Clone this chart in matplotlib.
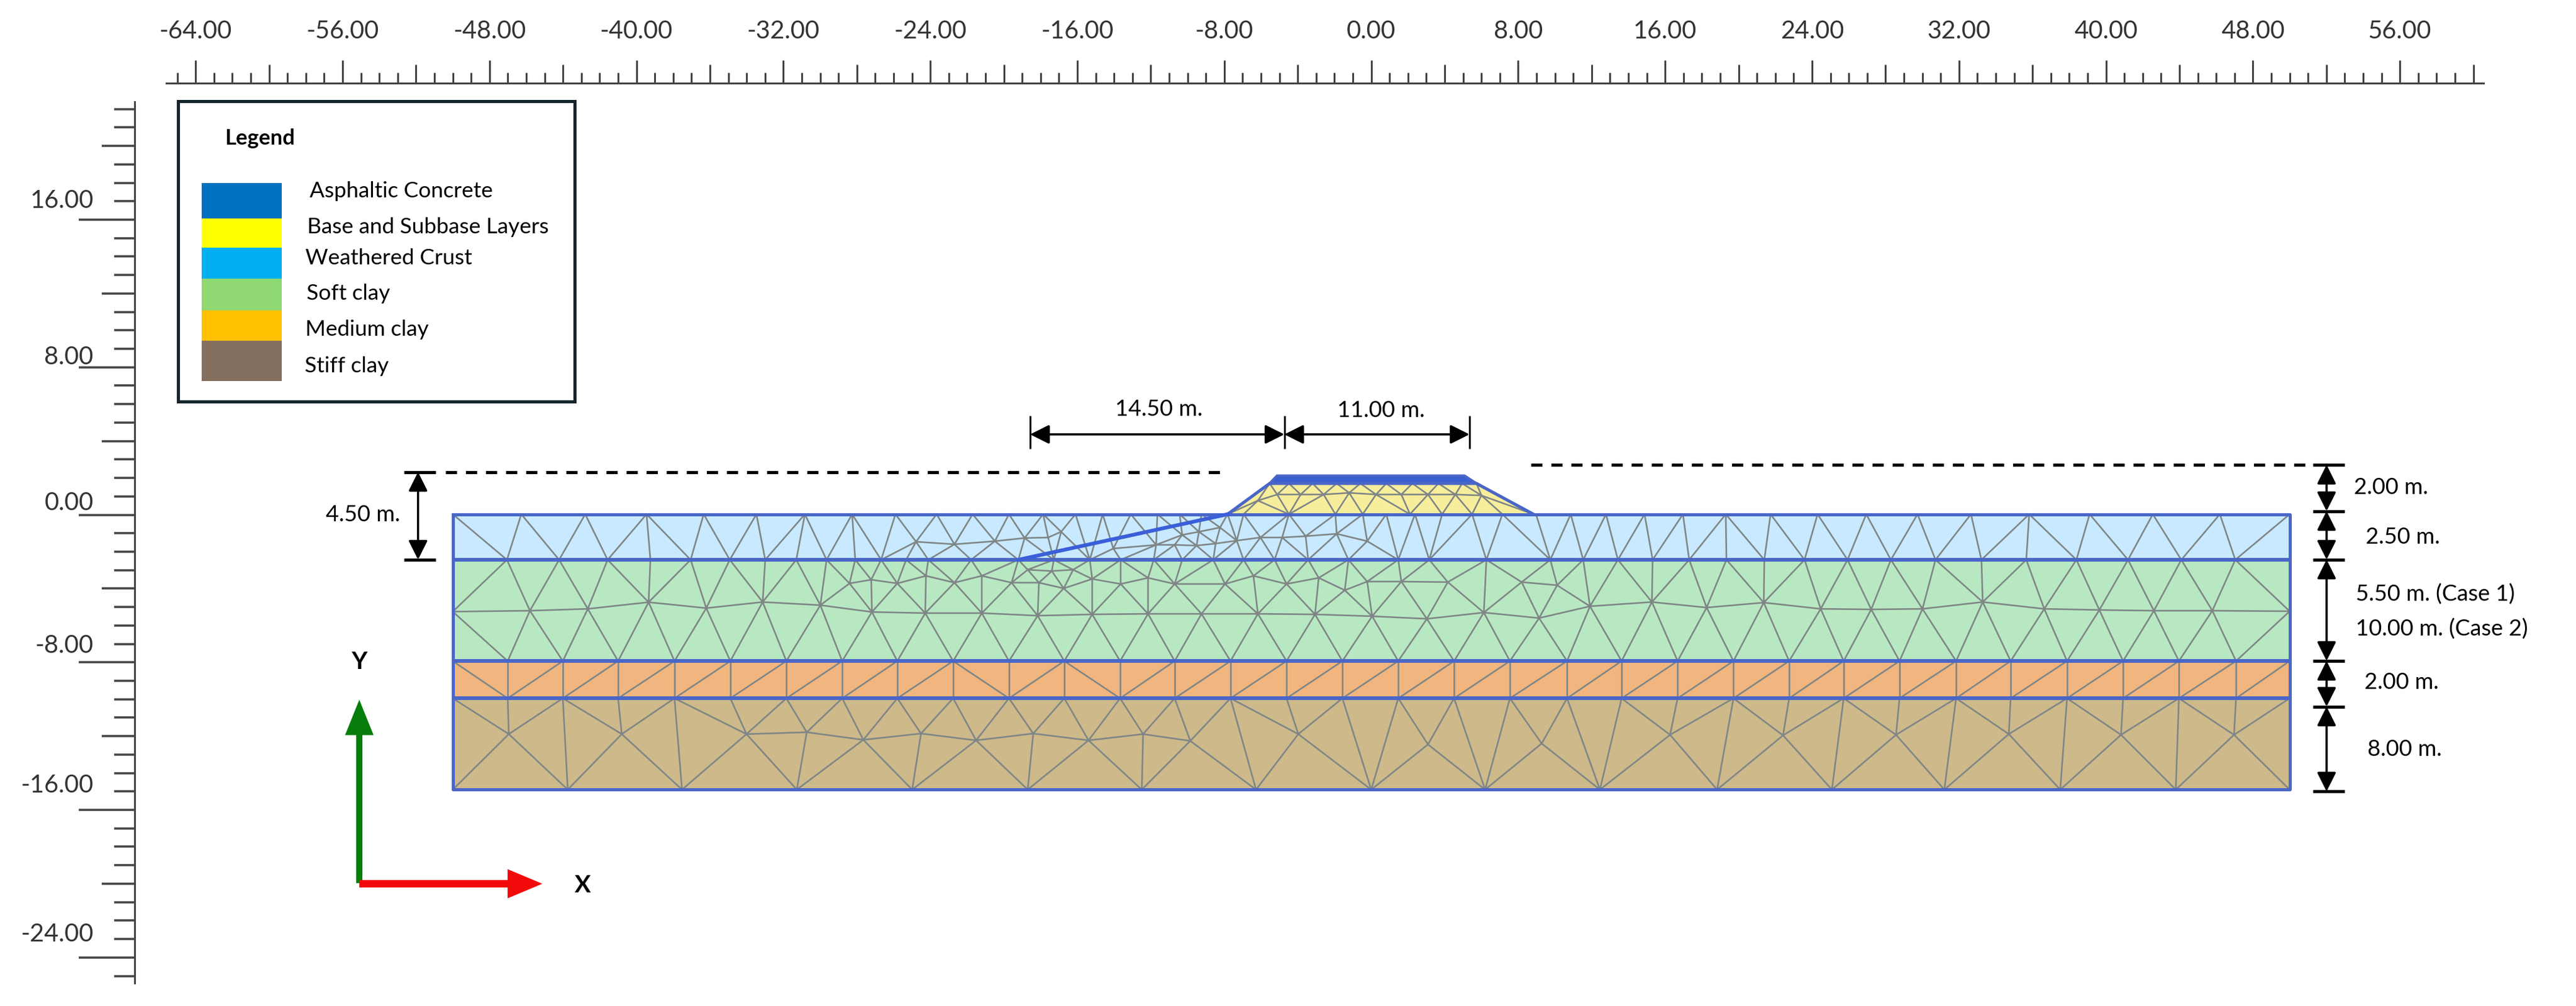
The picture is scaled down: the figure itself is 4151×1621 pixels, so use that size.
"""Embankment FE model cross-section with soil layers and mesh"""

import matplotlib
matplotlib.use('Agg')
import matplotlib.pyplot as plt
import matplotlib.tri as mtri
from matplotlib.collections import LineCollection
from matplotlib.transforms import ScaledTranslation
import numpy as np

W, H = 4151, 1621
plt.rcParams['font.family'] = ['Lato', 'DejaVu Sans']

# ruler ticks
x_ticks = [-64, -56, -48, -40, -32, -24, -16, -8, 0, 8, 16, 24, 32, 40, 48, 56]
x_tick_labels = ['-64.00', '-56.00', '-48.00', '-40.00', '-32.00', '-24.00', '-16.00', '-8.00',
                 '0.00', '8.00', '16.00', '24.00', '32.00', '40.00', '48.00', '56.00']
y_ticks = [-24, -16, -8, 0, 8, 16]
y_tick_labels = ['-24.00', '-16.00', '-8.00', '0.00', '8.00', '16.00']
y_label_lift = [41, 43, 30, 23, 20, 34]  # px above the long tick, varies in the source

# soil layers, top to bottom (m)
Y0, Y1, Y2, Y3, Y4 = 0.03, -2.44, -7.93, -9.95, -14.9
layer_tops = [Y0, Y1, Y2, Y3]
layer_bots = [Y1, Y2, Y3, Y4]
layer_cols = ['#c8e9ff', '#b8e8c2', '#f1b57f', '#cdb98a']
model_x = [-50.0, 50.0]
interface_y = [Y1, Y2, Y3]

# embankment outline
fill_x = [-7.82, -5.53, 5.73, 8.83]
fill_y = [Y0, 1.7, 1.7, Y0]
asph_x = [-5.53, -5.13, 5.08, 5.73]
asph_y = [1.7, 2.12, 2.12, 1.7]
slip_x = [-7.82, -19.21]
slip_y = [Y0, Y1]

# mesh nodes (m)
row_0 = [-50.0, -46.27, -42.79, -39.45, -36.34, -33.47, -30.83, -28.26, -25.90, -23.66, -21.70,
         -19.72, -17.86, -16.10, -14.62, -13.09, -11.64, -10.43, -9.24, -7.82, -6.95, -4.48,
         -1.95, -0.46, 0.82, 2.38, 3.86, 5.49, 7.14, 8.97, 10.86, 12.78, 14.88, 16.97, 19.30,
         21.74, 24.30, 26.95, 29.74, 32.65, 35.82, 39.11, 42.55, 46.20, 50.0]
row_25 = [-50.0, -47.05, -44.21, -41.57, -39.24, -37.05, -34.92, -32.99, -31.30, -29.65, -28.09,
          -26.68, -25.32, -24.11, -21.78, -19.21, -17.28, -15.32, -13.64, -11.84, -10.29, -8.60,
          -6.95, -5.26, -3.43, -1.24, 1.47, 3.16, 6.27, 9.75, 11.54, 13.43, 15.32, 17.31, 19.34,
          21.40, 23.59, 25.93, 28.29, 30.72, 33.22, 35.66, 38.39, 41.20, 44.10, 47.04, 50.0]
row_8 = [-50.0, -47.01, -44.01, -41.0, -37.93, -34.89, -31.84, -28.80, -25.80, -22.76, -19.72,
         -16.71, -13.67, -10.70, -7.66, -4.61, -1.57, 1.47, 4.51, 7.55, 10.66, 13.63, 16.68,
         19.72, 22.75, 25.72, 28.76, 31.84, 34.81, 37.88, 40.93, 43.97, 47.08, 50.0]
row_15 = [-50.0, -43.74, -37.52, -31.27, -24.99, -18.70, -12.49, -6.27, 0.0, 6.20, 12.45, 18.83,
          25.08, 31.20, 37.51, 43.80, 50.0]

crust_mid_x = [-24.78, -22.69, -20.49, -18.87, -17.59, -16.88, -14.04, -11.71, -10.70, -9.51,
               -8.47, -7.32, -6.03, -4.85, -3.57, -1.88, -0.22, -10.29, -9.38, -8.23]
crust_mid_y = [-1.46, -1.60, -1.43, -1.26, -1.23, -0.92, -1.83, -1.63, -1.63, -1.67,
               -1.56, -1.40, -1.23, -1.23, -1.16, -1.03, -1.43, -1.09, -0.92, -0.69]

soft_mid_x = [-50.0, -45.80, -42.65, -39.34, -36.20, -33.13, -29.99, -27.18, -24.28, -21.20, -18.16,
              -15.19, -12.15, -9.24, -6.17, -3.06, 0.05, 3.03, 6.13, 9.14, 11.91, 15.28, 18.26,
              21.37, 24.47, 27.22, 30.01, 33.29, 36.64, 39.64, 42.61, 45.79, 50.0]
soft_mid_y = [-5.25, -5.20, -5.10, -4.74, -5.06, -4.73, -4.90, -5.27, -5.33, -5.33, -5.47,
              -5.40, -5.37, -5.37, -5.37, -5.40, -5.50, -5.64, -5.30, -5.60, -4.96, -4.73, -5.03,
              -4.76, -5.10, -5.13, -5.10, -4.73, -5.10, -5.16, -5.20, -5.20, -5.23]
soft_up_x = [-28.40, -27.22, -25.80, -24.24, -22.69, -21.20, -19.58, -18.09, -16.74, -15.19, -13.64,
             -12.15, -10.70, -7.96, -6.41, -4.61, -2.86, -1.44, -0.22, 1.64, 4.17, 8.19, 10.12,
             -18.70, -17.39, -16.23]
soft_up_y = [-3.72, -3.52, -3.72, -3.31, -3.68, -3.31, -3.68, -3.68, -3.99, -3.48, -3.75,
             -3.42, -3.75, -3.75, -3.31, -3.75, -3.42, -4.09, -3.62, -3.62, -3.65, -3.65, -3.82,
             -2.98, -3.05, -2.98]

stiff_mid_x = [-46.95, -40.80, -34.01, -30.73, -27.65, -24.51, -21.51, -18.40, -15.39, -12.42,
               -9.85, -3.97, 3.09, 9.28, 16.27, 22.42, 28.57, 34.71, 40.82, 46.97]
stiff_mid_y = [-11.89, -11.89, -11.89, -11.79, -12.20, -11.86, -12.23, -11.86, -12.23, -11.89,
               -12.26, -11.89, -12.45, -12.40, -11.93, -11.96, -11.93, -11.89, -11.93, -11.93]

fill_base_x = [-7.82, -6.95, -4.48, -1.95, -0.46, 2.11, 3.86, 5.49, 7.14, 8.83]
fill_top_x = [-5.53, -4.48, -3.19, -1.88, -0.59, 0.82, 2.24, 3.66, 4.95, 5.73]
fill_mid_x = [-6.17, -5.12, -3.84, -2.59, -1.20, 0.26, 1.64, 3.09, 4.58, 6.0]
fill_mid_y = [0.77, 1.10, 1.10, 1.10, 1.19, 1.10, 1.10, 1.10, 1.10, 1.05]

medium_back_cells = [0, 9, 11]  # cells of the medium clay with a "\" diagonal

# dimension lines (m)
right_dim_y = [2.71, 0.2, -2.43, -7.92, -10.4, -15.0]
left_dim_y = [2.32, -2.43]
top_dim_x = [-18.57, -4.73, 5.35]
dash_left_x = [-50.39, -8.23]
dash_right_x = [8.70, 51.17]

# legend
legend_names = ['Asphaltic Concrete', 'Base and Subbase Layers', 'Weathered Crust',
                'Soft clay', 'Medium clay', 'Stiff clay']
legend_cols = ['#0070c0', '#ffff00', '#00b0f0', '#8fd872', '#ffc000', '#857060']
legend_edges = [295, 352, 399, 449, 500, 549, 614]
legend_text_x = [499, 495, 492, 494, 492, 491]
legend_text_y = [308, 366, 416, 473, 531, 590]

MESH = '#7f8686'
LINE = '#4a66c8'
RULER = '#444444'
PX = 0.72  # points per pixel at dpi 100

x0, sx = 2209.6, 29.6
y0, sy = 829.5, 29.72

fig = plt.figure(figsize=(W / 100, H / 100), dpi=100, facecolor='white')
ax = fig.add_axes([217 / W, 1 - 1585 / H, (4002 - 217) / W, (1585 - 134) / H])
ax.patch.set_visible(False)

# layers
for top, bot, col in zip(layer_tops, layer_bots, layer_cols):
    ax.fill_between(model_x, bot, top, color=col, lw=0, zorder=1)
ax.fill(fill_x, fill_y, color='#f7ee9c', lw=0, zorder=1)
ax.fill(asph_x, asph_y, color='#3a5fd0', lw=0, zorder=3)


def mesh(xs, ys):
    tri = mtri.Triangulation(np.array(xs), np.array(ys))
    ax.triplot(tri, color=MESH, lw=2.6 * PX, zorder=2)


mesh(row_0 + crust_mid_x + row_25,
     [Y0] * len(row_0) + crust_mid_y + [Y1] * len(row_25))
mesh(row_25 + soft_up_x + soft_mid_x + row_8,
     [Y1] * len(row_25) + soft_up_y + soft_mid_y + [Y2] * len(row_8))
mesh(row_8 + stiff_mid_x + row_15,
     [Y3] * len(row_8) + stiff_mid_y + [Y4] * len(row_15))
mesh(fill_base_x + fill_mid_x + fill_top_x,
     [Y0] * len(fill_base_x) + fill_mid_y + [1.7] * len(fill_top_x))

# medium clay: verticals and one diagonal per cell
segs = [[(x, Y2), (x, Y3)] for x in row_8]
for i in range(len(row_8) - 1):
    if i in medium_back_cells:
        segs.append([(row_8[i], Y2), (row_8[i + 1], Y3)])
    else:
        segs.append([(row_8[i], Y3), (row_8[i + 1], Y2)])
ax.add_collection(LineCollection(segs, colors=MESH, linewidths=2.6 * PX, zorder=2))

# outlines and interfaces
ax.plot([model_x[0], model_x[0], model_x[1], model_x[1], model_x[0]],
        [Y0, Y4, Y4, Y0, Y0], color=LINE, lw=5 * PX, zorder=4, solid_joinstyle='round')
ax.hlines(interface_y, model_x[0], model_x[1], color=LINE, lw=6 * PX, zorder=4)
ax.plot(fill_x, fill_y, color=LINE, lw=5 * PX, zorder=4)
ax.plot(asph_x, asph_y, color=LINE, lw=4 * PX, zorder=4)
ax.plot(slip_x, slip_y, color='#3a5fd8', lw=6 * PX, zorder=4)


def dim_arrow(p1, p2):
    ax.annotate('', xy=p2, xytext=p1, annotation_clip=False, zorder=5,
                arrowprops=dict(arrowstyle='<|-|>', color='k', lw=3.5 * PX,
                                mutation_scale=47, shrinkA=0, shrinkB=0))


# dimension lines
ax.hlines(right_dim_y, 51.26, 52.99, color='k', lw=5 * PX, zorder=5)
for a, b in zip(right_dim_y[:-1], right_dim_y[1:]):
    dim_arrow((52.01, a), (52.01, b))
ax.hlines(left_dim_y, -52.67, -50.93, color='k', lw=5 * PX, zorder=5)
dim_arrow((-51.89, left_dim_y[0]), (-51.89, left_dim_y[1]))
ax.vlines(top_dim_x, 3.58, 5.36, color='k', lw=3 * PX, zorder=5)
for a, b in zip(top_dim_x[:-1], top_dim_x[1:]):
    dim_arrow((a, 4.36), (b, 4.36))
for xs, yv in ((dash_left_x, 2.32), (dash_right_x, 2.71)):
    ax.plot(xs, [yv, yv], color='k', lw=5 * PX, dashes=(3.6, 2.87), zorder=5)

# rulers
for s in ('right', 'bottom'):
    ax.spines[s].set_visible(False)
ax.spines['top'].set_color(RULER)
ax.spines['left'].set_color(RULER)
ax.spines['top'].set_linewidth(3 * PX)
ax.spines['left'].set_linewidth(3 * PX)
ax.spines['top'].set_bounds(-65.6, 60.54)
ax.spines['left'].set_bounds(-25.4, 22.4)

ax.xaxis.tick_top()
ax.set_xticks(x_ticks, x_tick_labels)
ax.set_yticks(y_ticks, y_tick_labels)
ax.set_xticks(np.arange(-65, 61), minor=True)
ax.set_yticks(np.arange(-25, 23), minor=True)
ax.set_xlim((217 - x0) / sx, (4002 - x0) / sx)
ax.set_ylim((y0 - 1585) / sy, (y0 - 134) / sy)

ax.tick_params(axis='x', which='major', length=37 * PX, width=3 * PX, color=RULER,
               labelsize=28.8, labelcolor='#333333', pad=20)
ax.tick_params(axis='x', which='minor', length=17 * PX, width=3 * PX, color=RULER)
ax.tick_params(axis='y', which='major', length=90 * PX, width=3.5 * PX, color=RULER,
               labelsize=28.8, labelcolor='#333333', pad=-17)
ax.tick_params(axis='y', which='minor', length=33 * PX, width=3.5 * PX, color=RULER)

for loc, tick in zip(ax.xaxis.get_minorticklocs(), ax.xaxis.get_minor_ticks()):
    if loc % 4 == 0:
        tick.tick2line.set_markersize(30 * PX)
for loc, tick in zip(ax.yaxis.get_minorticklocs(), ax.yaxis.get_minor_ticks()):
    if loc % 4 == 0:
        tick.tick1line.set_markersize(53 * PX)

# y labels sit above their long ticks
for lab, lift in zip(ax.get_yticklabels(), y_label_lift):
    lab.set_transform(lab.get_transform() + ScaledTranslation(0, lift / 100, fig.dpi_scale_trans))

# overlay in picture pixels for legend, labels and the axis triad
pax = fig.add_axes([0, 0, 1, 1])
pax.set_xlim(0, W)
pax.set_ylim(H, 0)
pax.axis('off')

pax.add_patch(plt.Rectangle((287, 163), 639, 484, fc='white', ec='#14252e', lw=5 * PX, zorder=1))
for i, col in enumerate(legend_cols):
    pax.add_patch(plt.Rectangle((325, legend_edges[i]), 129, legend_edges[i + 1] - legend_edges[i],
                                fc=col, ec='none', zorder=2))
    pax.text(legend_text_x[i], legend_text_y[i], legend_names[i], fontsize=25.5, va='center', zorder=3)
pax.text(362, 223, 'Legend', fontsize=25, fontweight='bold', va='center')

dim_labels = [(1867, 659, '14.50 m.', 'center'), (2225, 661, '11.00 m.', 'center'),
              (645, 829, '4.50 m.', 'right'), (3793, 786, '2.00 m.', 'left'),
              (3812, 865, '2.50 m.', 'left'), (3796, 958, '5.50 m. (Case 1)', 'left'),
              (3796, 1014, '10.00 m. (Case 2)', 'left'), (3810, 1099, '2.00 m.', 'left'),
              (3815, 1208, '8.00 m.', 'left')]
for px, py, txt, ha in dim_labels:
    pax.text(px, py, txt, fontsize=26.2, ha=ha, va='center')

pax.arrow(579, 1423, 0, -295.5, width=10, head_width=46, head_length=57,
          length_includes_head=True, color='#067d0a', lw=0)
pax.arrow(579, 1424, 295, 0, width=12, head_width=47, head_length=56,
          length_includes_head=True, color='#f20a0a', lw=0)
pax.text(579, 1066, 'Y', fontsize=28, fontweight='bold', ha='center', va='center')
pax.text(939, 1426, 'X', fontsize=28, fontweight='bold', ha='center', va='center')

fig.savefig('out.png', dpi=100)
